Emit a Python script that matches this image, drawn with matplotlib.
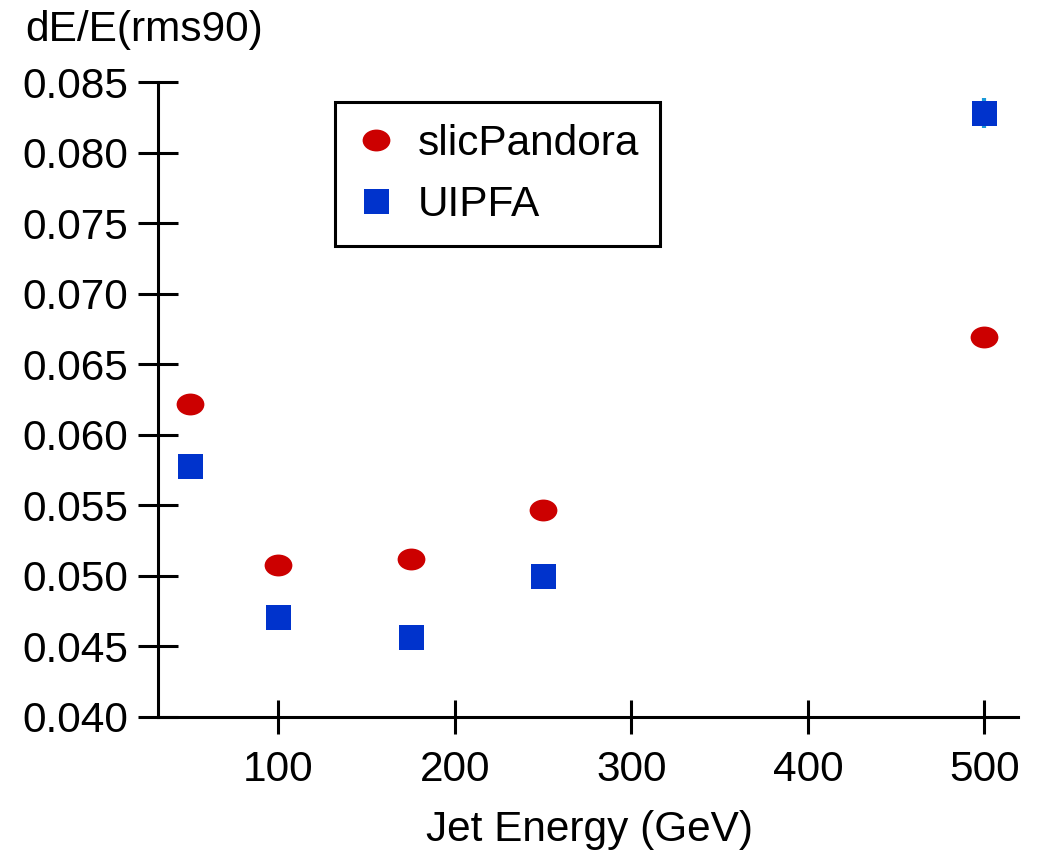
import matplotlib
matplotlib.use("Agg")
import matplotlib.pyplot as plt
from matplotlib.path import Path

plt.rcParams['font.family'] = ['Liberation Sans', 'DejaVu Sans']

energy = [50, 100, 175, 250, 500]
slic_pandora = [0.0622, 0.0508, 0.0512, 0.0547, 0.0669]
uipfa = [0.0578, 0.0471, 0.0457, 0.0500, 0.0828]
uipfa_err = [0.0, 0.0, 0.0, 0.0, 0.00105]
xticks = [100, 200, 300, 400, 500]
yticks = [0.040, 0.045, 0.050, 0.055, 0.060, 0.065, 0.070, 0.075, 0.080, 0.085]

ellipse = Path(Path.unit_circle().vertices * [1.27, 1.0], Path.unit_circle().codes)

fig = plt.figure(figsize=(10.37, 8.52), dpi=100)
ax = fig.add_axes([158/1037, 1-717/852, 860/1037, 635/852])

ax.errorbar(energy, uipfa, yerr=uipfa_err, fmt='none', ecolor='#1a9ad8',
            elinewidth=3, capsize=0, zorder=2)
ax.plot(energy, slic_pandora, linestyle='none', marker=ellipse, markersize=20,
        color='#cc0000', mec='#cc0000', mew=0, label='slicPandora', zorder=3)
ax.plot(energy, uipfa, linestyle='none', marker='s', markersize=18,
        color='#0033cc', mec='#0033cc', mew=0, label='UIPFA', zorder=3)

ax.set_xlim(32, 519)
ax.set_ylim(0.040, 0.085)
ax.set_xticks(xticks)
ax.set_yticks(yticks)
ax.set_yticklabels([f"{v:.3f}" for v in yticks])
for s in ['top', 'right']:
    ax.spines[s].set_visible(False)
for s in ['left', 'bottom']:
    ax.spines[s].set_linewidth(2.2)
ax.tick_params(axis='y', direction='inout', length=29, width=2.2, labelsize=30.5, pad=7)
ax.tick_params(axis='x', direction='inout', length=25, width=2.2, labelsize=30.5, pad=11)

fig.text(25/1037, 1-30/852, 'dE/E(rms90)', fontsize=30.5, ha='left', va='center')
fig.text(589/1037, 1-830/852, 'Jet Energy (GeV)', fontsize=30.5, ha='center', va='center')

leg = ax.legend(loc='upper left', bbox_to_anchor=(0.206, 0.968), fontsize=30.5,
                frameon=True, fancybox=False, edgecolor='black', framealpha=1,
                borderpad=0.5, handletextpad=0.5, labelspacing=0.5,
                handlelength=0.95, borderaxespad=0)
leg.get_frame().set_linewidth(2.2)

fig.savefig('out.png', dpi=100)
